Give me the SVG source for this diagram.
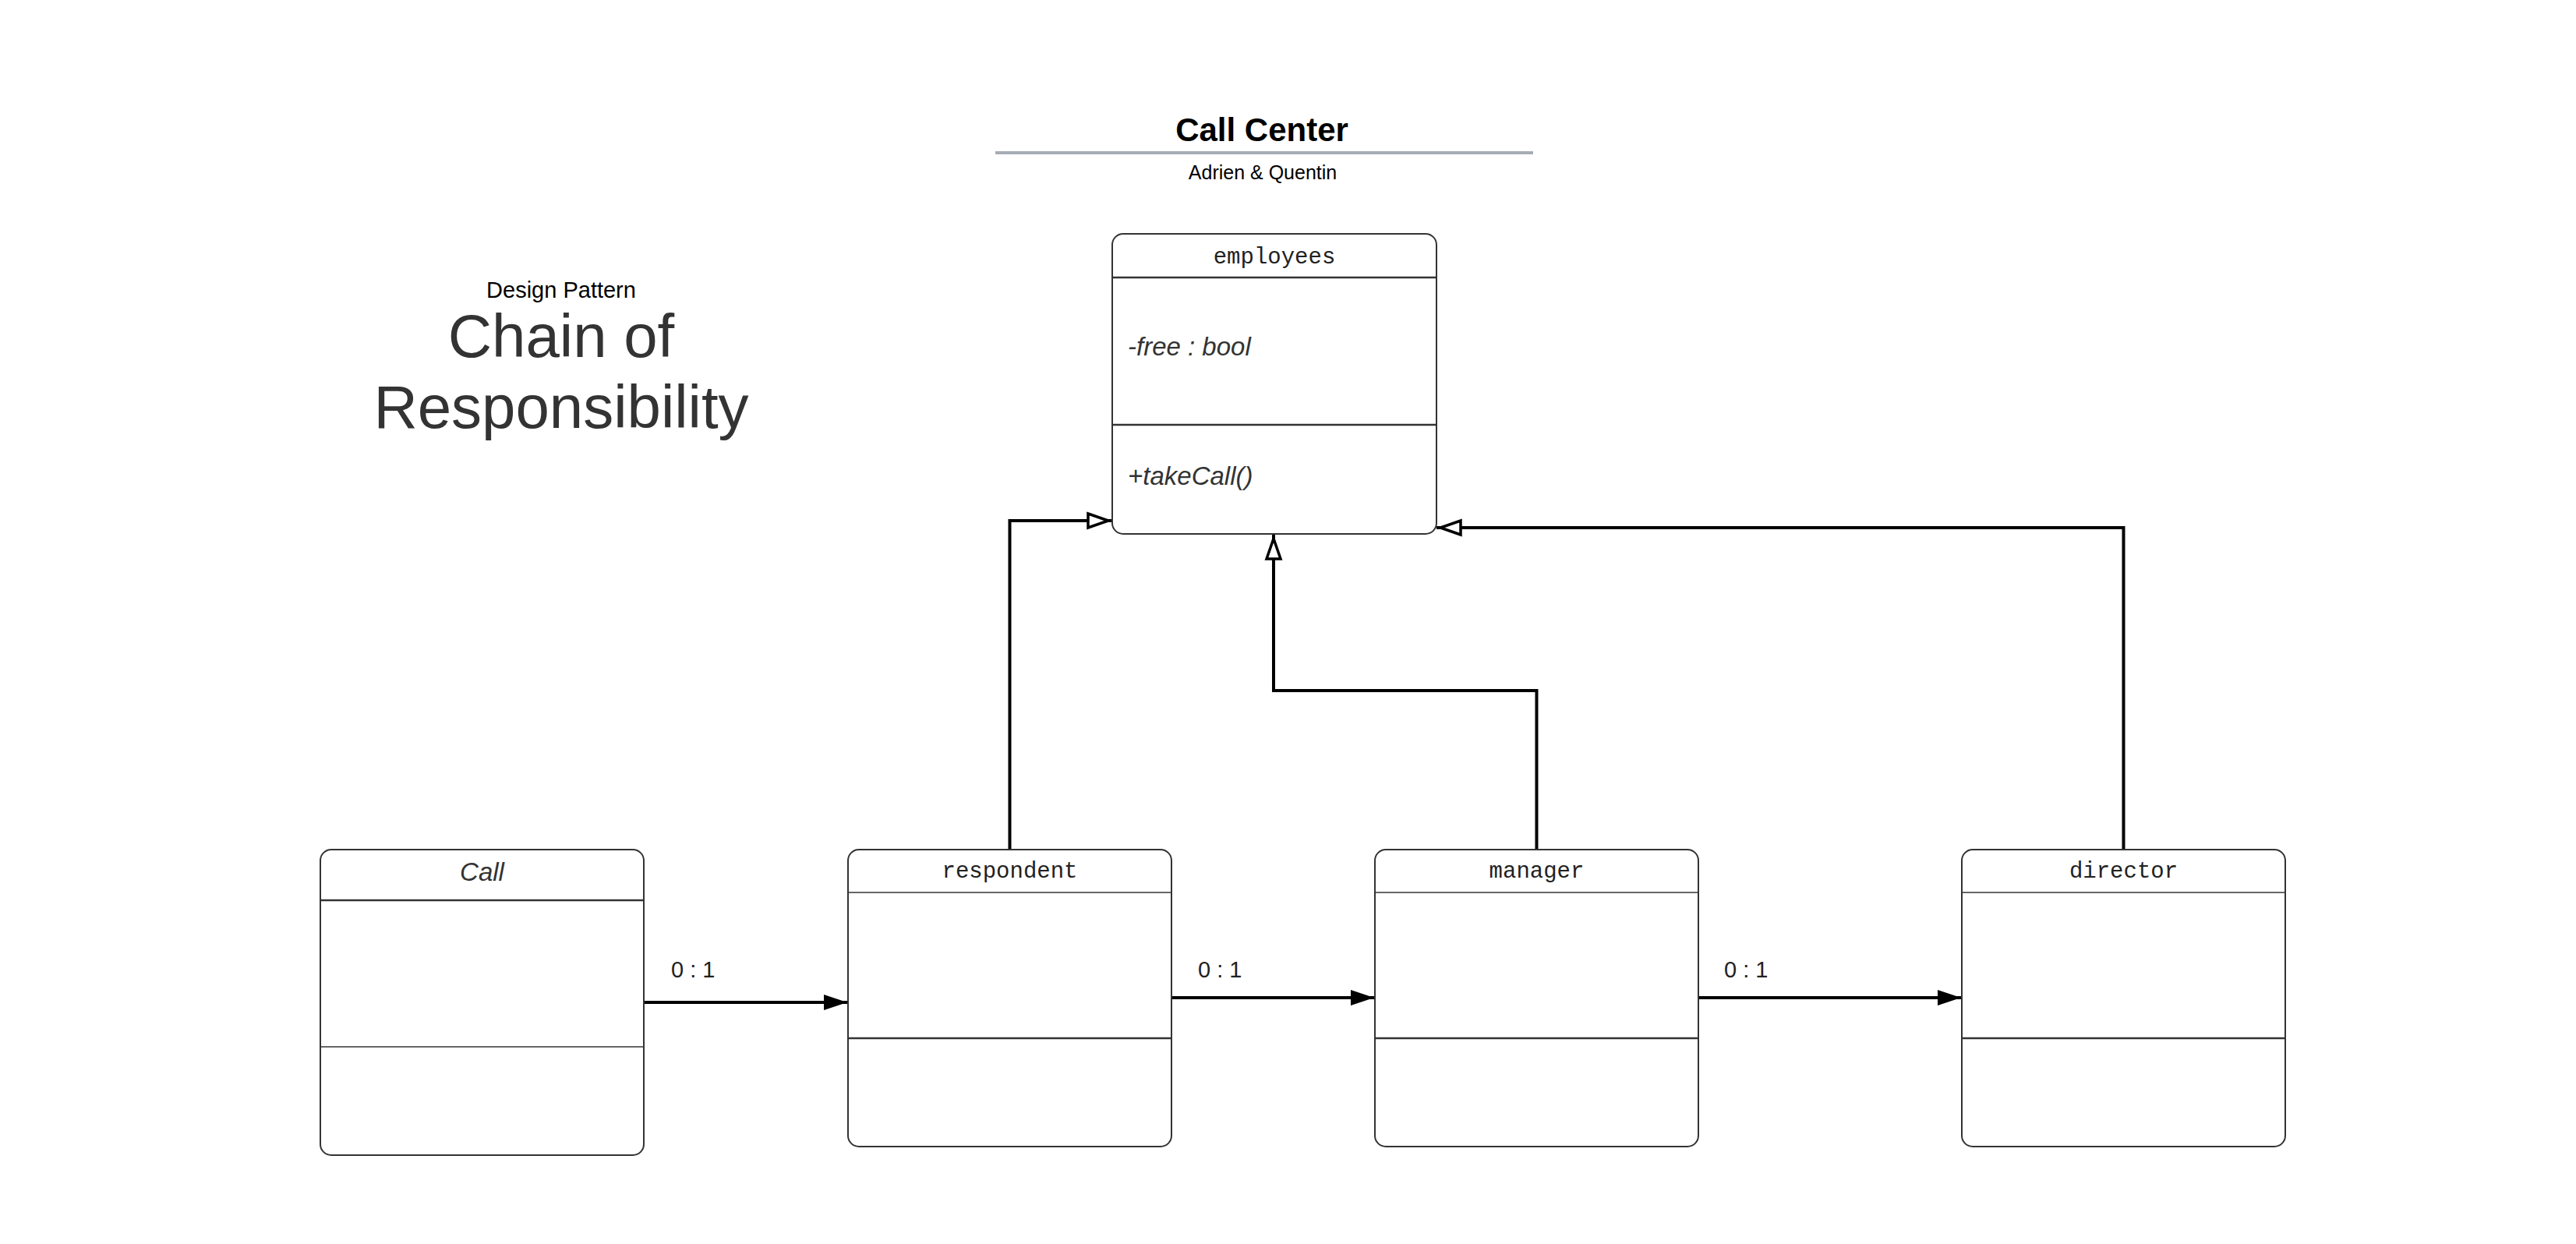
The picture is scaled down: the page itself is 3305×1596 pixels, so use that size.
<svg xmlns="http://www.w3.org/2000/svg" width="3305" height="1596" viewBox="0 0 3305 1596">
<style>
.box{fill:#fff;stroke:#333;stroke-width:2}
.sep{stroke:#333;stroke-width:2.5}
.sep2{stroke:#333;stroke-width:1.5}
.cls{font-family:"Liberation Mono",monospace;font-size:29px;fill:#222;text-anchor:middle}
.it{font-family:"Liberation Sans",Arial,sans-serif;font-style:italic;font-size:33px;fill:#333}
.lbl{font-family:"Liberation Sans",Arial,sans-serif;font-size:29px;fill:#222}
.conn{fill:none;stroke:#000;stroke-width:4}
</style>
<defs>
<marker id="filled" markerUnits="userSpaceOnUse" markerWidth="32" markerHeight="22" refX="30" refY="10" orient="auto" overflow="visible">
<path d="M0,0 L30,10 L0,20 Z" fill="#000"/>
</marker>
<marker id="hollow" markerUnits="userSpaceOnUse" markerWidth="40" markerHeight="30" refX="31" refY="9" orient="auto" overflow="visible">
<path d="M0,0 L26,9 L0,18 Z" fill="#fff" stroke="#000" stroke-width="3.5"/>
</marker>
</defs>
<rect width="3305" height="1596" fill="#fff"/>

<g id="title">
<text x="1619" y="181" font-family="Liberation Sans,Arial,sans-serif" font-weight="bold" font-size="42" fill="#000" text-anchor="middle">Call Center</text>
<line x1="1277" y1="196" x2="1967" y2="196" stroke="#a6acb5" stroke-width="4"/>
<text x="1620" y="230" font-family="Liberation Sans,Arial,sans-serif" font-size="25" fill="#000" text-anchor="middle">Adrien &amp; Quentin</text>
</g>

<g id="pattern-title">
<text x="720" y="382" font-family="Liberation Sans,Arial,sans-serif" font-size="29" fill="#000" text-anchor="middle">Design Pattern</text>
<text x="720" y="458" font-family="Liberation Sans,Arial,sans-serif" font-size="78" fill="#333" text-anchor="middle">Chain of</text>
<text x="720" y="549" font-family="Liberation Sans,Arial,sans-serif" font-size="78" fill="#333" text-anchor="middle">Responsibility</text>
</g>

<g id="connectors">
<path class="conn" d="M827,1286 L1087,1286" marker-end="url(#filled)"/>
<path class="conn" d="M1504,1280 L1763,1280" marker-end="url(#filled)"/>
<path class="conn" d="M2180,1280 L2516,1280" marker-end="url(#filled)"/>
<path class="conn" d="M1295.5,1090 L1295.5,668 L1427,668" marker-end="url(#hollow)"/>
<path class="conn" d="M1971.5,1090 L1971.5,886 L1634,886 L1634,686" marker-end="url(#hollow)"/>
<path class="conn" d="M2724.5,1090 L2724.5,677 L1843,677" marker-end="url(#hollow)"/>
</g>
<g id="connector-labels">
<text class="lbl" x="861" y="1254">0 : 1</text>
<text class="lbl" x="1537" y="1254">0 : 1</text>
<text class="lbl" x="2212" y="1254">0 : 1</text>
</g>

<g id="employees">
<rect class="box" x="1427" y="300" width="416" height="385" rx="14"/>
<line class="sep" x1="1427" y1="356" x2="1843" y2="356"/>
<line class="sep" x1="1427" y1="545" x2="1843" y2="545"/>
<text class="cls" x="1635" y="338">employees</text>
<text class="it" x="1447" y="456">-free : bool</text>
<text class="it" x="1447" y="622">+takeCall()</text>
</g>

<g id="call">
<rect class="box" x="411" y="1090" width="415" height="392" rx="14"/>
<line class="sep" x1="411" y1="1155" x2="826" y2="1155"/>
<line class="sep2" x1="411" y1="1343" x2="826" y2="1343"/>
<text class="it" x="618.5" y="1130" text-anchor="middle">Call</text>
</g>

<g id="respondent">
<rect class="box" x="1088" y="1090" width="415" height="381" rx="14"/>
<line class="sep2" x1="1088" y1="1145" x2="1503" y2="1145"/>
<line class="sep" x1="1088" y1="1332" x2="1503" y2="1332"/>
<text class="cls" x="1295.5" y="1126">respondent</text>
</g>

<g id="manager">
<rect class="box" x="1764" y="1090" width="415" height="381" rx="14"/>
<line class="sep2" x1="1764" y1="1145" x2="2179" y2="1145"/>
<line class="sep" x1="1764" y1="1332" x2="2179" y2="1332"/>
<text class="cls" x="1971.5" y="1126">manager</text>
</g>

<g id="director">
<rect class="box" x="2517" y="1090" width="415" height="381" rx="14"/>
<line class="sep2" x1="2517" y1="1145" x2="2932" y2="1145"/>
<line class="sep" x1="2517" y1="1332" x2="2932" y2="1332"/>
<text class="cls" x="2724.5" y="1126">director</text>
</g>
</svg>
